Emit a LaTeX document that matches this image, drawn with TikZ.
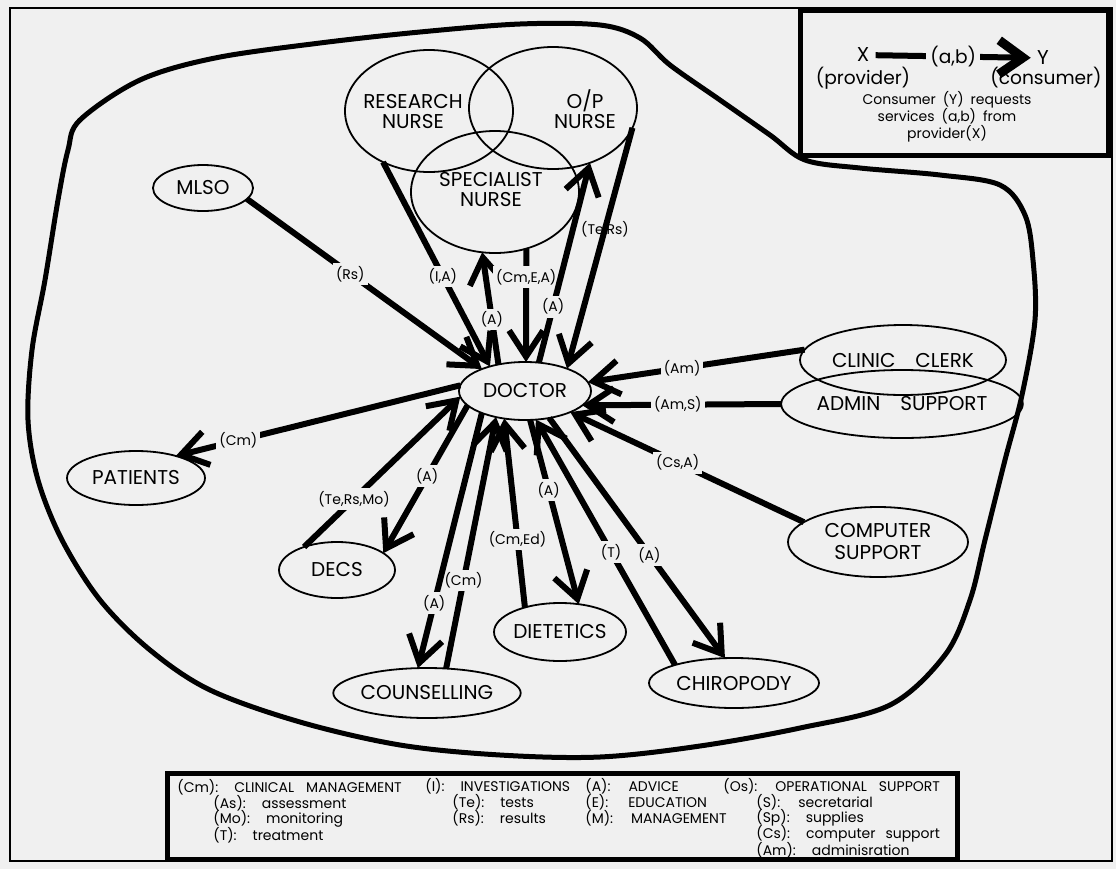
\documentclass[tikz,border=0pt]{standalone}
\usepackage{fontspec}
\setmainfont{Poppins}
\usepackage{tikz}
\usetikzlibrary{arrows.meta}
\usetikzlibrary{shapes.geometric}
\usetikzlibrary{calc}

\definecolor{paper}{gray}{0.94}

\begin{document}
\begin{tikzpicture}[x=0.5pt, y=-0.5pt,
  svc/.style={draw, ellipse, line width=0.9pt, inner sep=0pt, outer sep=0pt,
    align=center, font=\fontsize{10}{11}\selectfont},
  svctxt/.style={align=center, font=\fontsize{10}{10}\selectfont},
  link/.style={line width=3pt, -{Straight Barb[length=13pt,width=17pt]}},
  lbl/.style={fill=paper, inner sep=1.5pt, font=\fontsize{7}{7}\selectfont},
  keytxt/.style={font=\fontsize{9.3}{10}\selectfont, inner sep=3pt},
  legtxt/.style={anchor=west, inner sep=0pt, font=\fontsize{7}{8}\selectfont},
  box/.style={draw, line width=2.5pt}]

\fill[paper] (0,0) rectangle (1116,869);
\draw[line width=1.2pt] (10,8) rectangle (1112,861);

% the clinic
\draw[line width=2.5pt, line join=round] plot[smooth cycle, tension=0.55] coordinates {
  (80,120) (140,80) (215,58) (320,43) (420,32) (520,24) (600,25) (640,38)
  (670,65) (720,100) (770,135) (805,160) (860,168) (940,175) (1000,185)
  (1025,215) (1033,260) (1035,320) (1022,395) (1005,460) (985,540) (970,600)
  (945,655) (890,705) (800,728) (700,746) (600,757) (500,755) (400,745)
  (300,722) (210,690) (150,650) (100,600) (62,540) (38,480) (28,420)
  (32,350) (45,280) (58,200) (68,150)};

% nurses
\node[svc, minimum width=84pt, minimum height=61pt] (rn) at (429,111) {};
\node[svc, minimum width=84pt, minimum height=61pt] (op) at (553,108) {};
\node[svc, minimum width=84pt, minimum height=61pt] (sn) at (495,192) {};
\node[svctxt] at (413,112) {RESEARCH\\NURSE};
\node[svctxt] at (585,109) {O/P\\NURSE};
\node[svctxt] at (491,190) {SPECIALIST\\NURSE};

\node[svc, minimum width=66pt, minimum height=29pt] (doc) at (525,391) {DOCTOR};
\node[svc, minimum width=50pt, minimum height=23pt] (mlso) at (203,188) {MLSO};
\node[svc, minimum width=103pt, minimum height=35pt] (cc) at (903,360) {CLINIC\quad CLERK};
\node[svc, minimum width=103pt, minimum height=34pt] (adm) at (902,404) {ADMIN\quad SUPPORT};
\node[svc, minimum width=90pt, minimum height=35pt] (comp) at (878,542) {COMPUTER\\SUPPORT};
\node[svc, minimum width=69pt, minimum height=27pt] (pat) at (136,478) {PATIENTS};
\node[svc, minimum width=58pt, minimum height=28pt] (decs) at (337,570) {DECS};
\node[svc, minimum width=92pt, minimum height=25pt] (coun) at (427,693) {COUNSELLING};
\node[svc, minimum width=64pt, minimum height=29pt] (diet) at (560,632) {DIETETICS};
\node[svc, minimum width=85pt, minimum height=25pt] (chir) at (734,683) {CHIROPODY};

\draw[link] (mlso.346) -- node[lbl, pos=0.44] {(Rs)} (doc.153);
\draw[link] (rn.228) -- node[lbl, pos=0.56] {(I,A)} (doc.145);
\draw[link] (doc.135) -- node[lbl, pos=0.4] {(A)} (sn.258);
\draw[link] (sn.299) -- node[lbl, pos=0.25] {(Cm,E,A)} (doc.88);
\draw[link] (doc.64) -- node[lbl, pos=0.28] {(A)} (op.304);
\draw[link] (op.346) -- node[lbl, pos=0.42, fill=none] {(Te,Rs)} (doc.28);
\draw[link] (cc.174) -- node[lbl, pos=0.565] {(Am)} (doc.8);
\draw[link] (adm.180) -- node[lbl, pos=0.52] {(Am,S)} (doc.346);
\draw[link] (comp.165) -- node[lbl, pos=0.54] {(Cs,A)} (doc.335);
\draw[link] (doc.312) -- node[lbl, pos=0.57] {(A)} (chir.110);
\draw[link] (chir.163) -- node[lbl, pos=0.46] {(T)} (doc.291);
\draw[link] (doc.280) -- node[lbl, pos=0.38] {(A)} (diet.56);
\draw[link] (diet.145) -- node[lbl, pos=0.36] {(Cm,Ed)} (doc.233);
\draw[link] (coun.52) -- node[lbl, pos=0.35] {(Cm)} (doc.222);
\draw[link] (doc.207) -- node[lbl, pos=0.745] {(A)} (coun.110);
\draw[link] (doc.194) -- node[lbl, pos=0.48] {(A)} (decs.20);
\draw[link] (decs.145) -- node[lbl, pos=0.32] {(Te,Rs,Mo)} (doc.185);
\draw[link] (doc.175) -- node[lbl, pos=0.78] {(Cm)} (pat.29);

% key
\draw[box] (800,10) rectangle (1108,155);
\node[keytxt, font=\fontsize{10}{10}\selectfont] (kx) at (863,55) {X};
\node[keytxt, font=\fontsize{10}{10}\selectfont] (ky) at (1043,58) {Y};
\draw[line width=3pt, -{Straight Barb[length=12pt,width=17pt,line width=4.5pt]}]
  (kx) -- node[keytxt, fill=paper, inner sep=2pt] {(a,b)} (ky);
\node[keytxt] (kprov) at (863,78) {(provider)};
\node[keytxt] (kcons) at (1046,78) {(consumer)};
\node[align=center, font=\fontsize{7}{8.5}\selectfont] (kdesc) at (947,117)
  {Consumer\enspace (Y)\enspace requests\\services\enspace (a,b)\enspace from\\provider(X)};

% legend
\draw[box] (167,773) rectangle (957,859);
\node[legtxt] (lcm) at (177,787) {(Cm):\hspace{8pt}CLINICAL\hspace{6pt}MANAGEMENT};
\node[legtxt] (las) at (213,803) {(As):\hspace{8pt}assessment};
\node[legtxt] (lmo) at (213,819) {(Mo):\hspace{8pt}monitoring};
\node[legtxt] (lt) at (213,835) {(T):\hspace{8pt}treatment};
\node[legtxt] (li) at (425,786) {(I):\hspace{8pt}INVESTIGATIONS};
\node[legtxt] (lte) at (452,802) {(Te):\hspace{8pt}tests};
\node[legtxt] (lrs) at (452,818) {(Rs):\hspace{8pt}results};
\node[legtxt] (la) at (585,786) {(A):\hspace{9pt}ADVICE};
\node[legtxt] (le) at (585,802) {(E):\hspace{10pt}EDUCATION};
\node[legtxt] (lm) at (585,818) {(M):\hspace{9pt}MANAGEMENT};
\node[legtxt] (los) at (723,786) {(Os):\hspace{9pt}OPERATIONAL\hspace{6pt}SUPPORT};
\node[legtxt] (ls) at (756,802) {(S):\hspace{9pt}secretarial};
\node[legtxt] (lsp) at (756,818) {(Sp):\hspace{8pt}supplies};
\node[legtxt] (lcs) at (756,834) {(Cs):\hspace{8pt}computer\hspace{5pt}support};
\node[legtxt] (lam) at (756,850) {(Am):\hspace{8pt}adminisration};

\end{tikzpicture}
\end{document}
